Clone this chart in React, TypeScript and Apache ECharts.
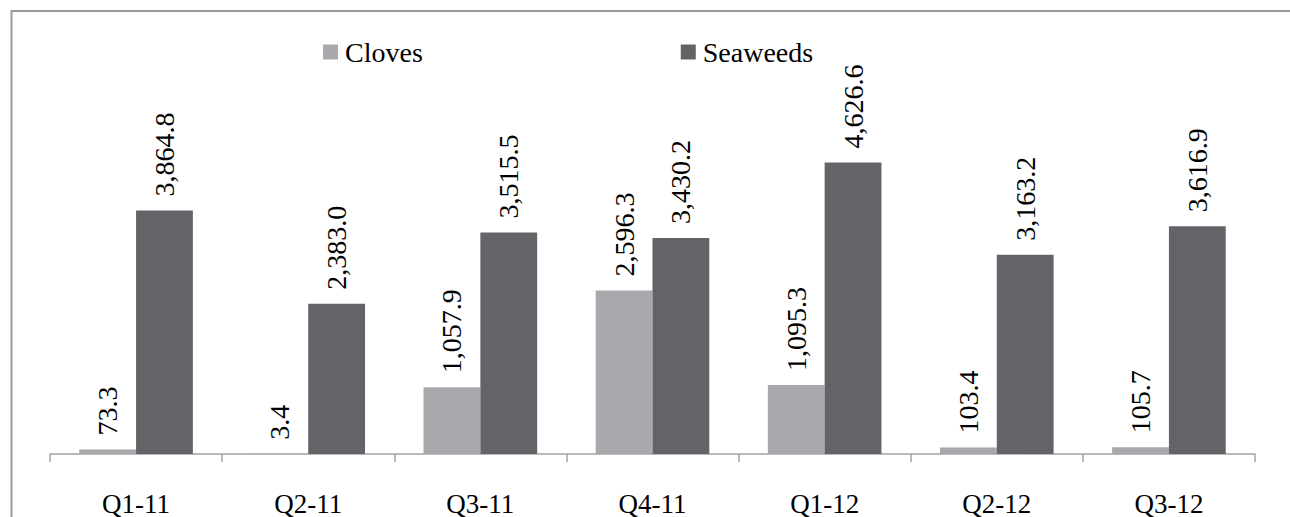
import React, { useEffect, useRef } from "react";
import * as echarts from "echarts";

const categories = ["Q1-11", "Q2-11", "Q3-11", "Q4-11", "Q1-12", "Q2-12", "Q3-12"];
const cloves = [73.3, 3.4, 1057.9, 2596.3, 1095.3, 103.4, 105.7];
const seaweeds = [3864.8, 2383.0, 3515.5, 3430.2, 4626.6, 3163.2, 3616.9];

const FONT = "Liberation Serif";

const fmt = (v: number) =>
  v.toLocaleString("en-US", { minimumFractionDigits: 1, maximumFractionDigits: 1 });

export default function App() {
  const ref = useRef<HTMLDivElement>(null);
  useEffect(() => {
    if (!ref.current) return;
    const chart = echarts.init(ref.current, null, { renderer: "svg" });
    const makeLabel = () => ({
      show: true,
      position: "top",
      rotate: 90,
      align: "left",
      verticalAlign: "middle",
      distance: 14,
      color: "#000",
      fontFamily: FONT,
      fontSize: 28,
      formatter: (p: any) => fmt(p.value),
    });
    chart.setOption({
      animation: false,
      backgroundColor: "#fff",
      textStyle: { fontFamily: FONT },
      graphic: [
        {
          type: "line",
          shape: { x1: 11.5, y1: 11, x2: 1290, y2: 11 },
          style: { stroke: "#9b9b9b", lineWidth: 2 },
          silent: true,
        },
        {
          type: "line",
          shape: { x1: 11.5, y1: 10, x2: 11.5, y2: 517 },
          style: { stroke: "#9b9b9b", lineWidth: 2 },
          silent: true,
        },
      ],
      legend: {
        left: 318,
        top: 33,
        itemWidth: 15,
        itemHeight: 15,
        itemGap: 258,
        icon: "rect",
        textStyle: { fontFamily: FONT, fontSize: 28, color: "#000", padding: [0, 0, 0, 2] },
        data: ["Cloves", "Seaweeds"],
      },
      grid: { left: 50, right: 35, top: 139, bottom: 57 },
      xAxis: {
        type: "category",
        data: categories,
        axisLine: { lineStyle: { color: "#a3a3a3", width: 1.5 } },
        axisTick: { show: true, length: 8, lineStyle: { color: "#a3a3a3", width: 1.5 } },
        axisLabel: { margin: 36, fontFamily: FONT, fontSize: 27, color: "#000" },
      },
      yAxis: {
        type: "value",
        min: 0,
        max: 5000,
        show: false,
        splitLine: { show: false },
      },
      series: [
        {
          name: "Cloves",
          type: "bar",
          data: cloves,
          itemStyle: { color: "#a7a9ac" },
          barGap: "0%",
          barCategoryGap: "34%",
          label: makeLabel(),
        },
        {
          name: "Seaweeds",
          type: "bar",
          data: seaweeds,
          itemStyle: { color: "#636467" },
          barGap: "0%",
          barCategoryGap: "34%",
          label: makeLabel(),
        },
      ],
    });
    return () => chart.dispose();
  }, []);
  return (
    <div
      ref={ref}
      style={{ position: "fixed", left: 0, top: 0, width: 1290, height: 517 }}
    />
  );
}
